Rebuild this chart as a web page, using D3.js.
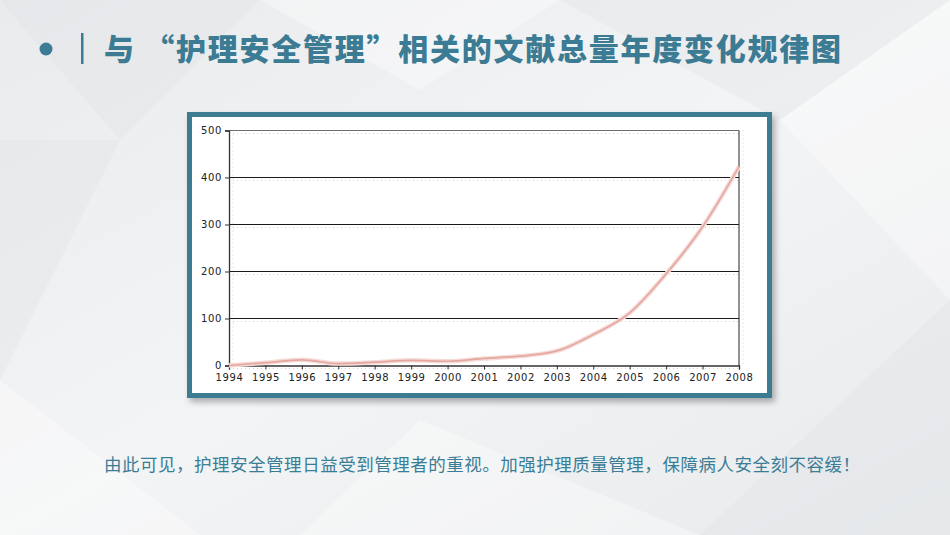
<!DOCTYPE html>
<html>
<head>
<meta charset="utf-8">
<script src="https://cdn.jsdelivr.net/npm/d3@7"></script>
<style>
  html, body { margin: 0; padding: 0; background: #eceef0; }
  svg { display: block; }
</style>
</head>
<body>
<svg id="chart" width="950" height="535"></svg>
<script>
// data
var years = [1994, 1995, 1996, 1997, 1998, 1999, 2000, 2001, 2002, 2003, 2004, 2005, 2006, 2007, 2008];
var counts = [0, 6, 12, 4, 7, 11, 9, 15, 20, 31, 66, 112, 195, 295, 423];
var yTicks = [0, 100, 200, 300, 400, 500];

var titleText = "与 “护理安全管理”相关的文献总量年度变化规律图";
var captionText = "由此可见，护理安全管理日益受到管理者的重视。加强护理质量管理，保障病人安全刻不容缓！";

var teal = "#3b7b93";
var svg = d3.select("#chart");

// background
var defs = svg.append("defs");
var bg = defs.append("linearGradient").attr("id", "bg")
  .attr("x1", 0).attr("y1", 0).attr("x2", 1).attr("y2", 1);
bg.append("stop").attr("offset", "0%").attr("stop-color", "#e9ebed");
bg.append("stop").attr("offset", "50%").attr("stop-color", "#f3f4f5");
bg.append("stop").attr("offset", "100%").attr("stop-color", "#e8eaec");
svg.append("rect").attr("width", 950).attr("height", 535).attr("fill", "url(#bg)");

// faint facets
var facets = [
  "0,0 260,0 120,140", "260,0 560,0 420,90", "560,0 950,0 780,120",
  "780,120 950,0 950,300", "0,140 120,140 0,380", "0,380 200,535 0,535",
  "700,535 950,300 950,535", "420,420 700,535 300,535"
];
svg.selectAll("polygon.facet").data(facets).enter().append("polygon")
  .attr("class", "facet")
  .attr("points", function(d) { return d; })
  .attr("fill", function(d, i) { return i % 2 ? "#ffffff" : "#dfe2e5"; })
  .attr("opacity", 0.35);

// title
svg.append("circle").attr("cx", 46).attr("cy", 49).attr("r", 6.5).attr("fill", teal);
svg.append("rect").attr("x", 81).attr("y", 33).attr("width", 2.5).attr("height", 31).attr("fill", teal);
svg.append("text")
  .attr("x", 104).attr("y", 60)
  .attr("font-family", "'Noto Sans CJK SC', sans-serif")
  .attr("font-weight", 900)
  .attr("font-size", 30)
  .attr("fill", teal)
  .attr("textLength", 737)
  .attr("lengthAdjust", "spacing")
  .text(titleText);

// caption
svg.append("text")
  .attr("x", 104).attr("y", 471)
  .attr("font-family", "'Noto Sans CJK SC', sans-serif")
  .attr("font-size", 17.5)
  .attr("fill", "#3a7d96")
  .attr("textLength", 756)
  .attr("lengthAdjust", "spacing")
  .text(captionText);

// frame
var shadow = defs.append("filter").attr("id", "shadow")
  .attr("x", "-5%").attr("y", "-5%").attr("width", "112%").attr("height", "115%");
shadow.append("feDropShadow").attr("dx", 3).attr("dy", 4).attr("stdDeviation", 3)
  .attr("flood-color", "#000").attr("flood-opacity", 0.3);
svg.append("rect")
  .attr("x", 189.5).attr("y", 114.5).attr("width", 580).attr("height", 281)
  .attr("fill", "#ffffff").attr("stroke", teal).attr("stroke-width", 5)
  .attr("filter", "url(#shadow)");

// plot
var plotLeft = 229, plotRight = 739, plotTop = 130.5, plotBottom = 365.5;
var x = d3.scaleLinear().domain([1994, 2008]).range([plotLeft, plotRight]);
var y = d3.scaleLinear().domain([0, 500]).range([plotBottom, plotTop]);

var g = svg.append("g");

// dotted background grid
g.selectAll("line.dotH").data(yTicks).enter().append("line")
  .attr("class", "dotH")
  .attr("x1", plotLeft).attr("x2", plotRight + 2)
  .attr("y1", function(d) { return y(d) + 3; }).attr("y2", function(d) { return y(d) + 3; })
  .attr("stroke", "#c8c8c8").attr("stroke-width", 0.8).attr("stroke-dasharray", "1,3");
g.selectAll("line.dotV").data([1994, 2008]).enter().append("line")
  .attr("class", "dotV")
  .attr("x1", function(d) { return x(d) + 4; }).attr("x2", function(d) { return x(d) + 4; })
  .attr("y1", plotTop).attr("y2", plotBottom)
  .attr("stroke", "#c8c8c8").attr("stroke-width", 0.8).attr("stroke-dasharray", "1,3");

// horizontal grid lines
g.selectAll("line.grid").data(yTicks.slice(1)).enter().append("line")
  .attr("class", "grid")
  .attr("x1", plotLeft).attr("x2", plotRight)
  .attr("y1", function(d) { return y(d); }).attr("y2", function(d) { return y(d); })
  .attr("stroke", function(d) { return d === 500 ? "#6e6e6e" : "#1a1a1a"; })
  .attr("stroke-width", 1);

// right border
g.append("line").attr("x1", plotRight).attr("x2", plotRight).attr("y1", plotTop).attr("y2", plotBottom)
  .attr("stroke", "#222").attr("stroke-width", 1);

// axes
var fontTicks = "'DejaVu Sans', sans-serif";
var yAxis = g.append("g").attr("transform", "translate(" + plotLeft + ",0)")
  .call(d3.axisLeft(y).tickValues(yTicks).tickSize(4).tickPadding(3));
var xAxis = g.append("g").attr("transform", "translate(0," + plotBottom + ")")
  .call(d3.axisBottom(x).tickValues(years).tickFormat(d3.format("d")).tickSize(4).tickPadding(4));
[yAxis, xAxis].forEach(function(a) {
  a.select(".domain").attr("stroke", "#333").attr("stroke-width", 1.3);
  a.selectAll(".tick line").attr("stroke", "#333");
  a.selectAll("text").attr("font-family", fontTicks).attr("font-size", 10)
    .attr("fill", "#222").attr("letter-spacing", 0.6);
});

// line
var line = d3.line()
  .x(function(d, i) { return x(years[i]); })
  .y(function(d) { return y(d); })
  .curve(d3.curveMonotoneX);
g.append("path").datum(counts)
  .attr("d", line)
  .attr("fill", "none")
  .attr("stroke", "#f5dcd8").attr("stroke-width", 4.5);
g.append("path").datum(counts)
  .attr("d", line)
  .attr("fill", "none")
  .attr("stroke", "#e5a7a0").attr("stroke-width", 1.7);
</script>
</body>
</html>
